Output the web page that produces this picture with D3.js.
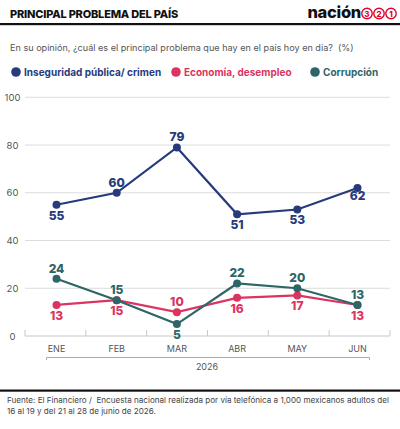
<!DOCTYPE html>
<html>
<head>
<meta charset="utf-8">
<script src="https://cdn.jsdelivr.net/npm/d3@7"></script>
<style>
  body { margin: 0; background: #fff; }
  svg text { font-family: Inter, "Noto Sans", sans-serif; }
</style>
</head>
<body>
<svg id="chart" width="400" height="429"></svg>
<script>
// data
const months = ["ENE", "FEB", "MAR", "ABR", "MAY", "JUN"];
const inseguridad = [55, 60, 79, 51, 53, 62];
const economia = [13, 15, 10, 16, 17, 13];
const corrupcion = [24, 15, 5, 22, 20, 13];
const yTicks = [0, 20, 40, 60, 80, 100];
const seriesNames = ["Inseguridad pública/ crimen", "Economía, desempleo", "Corrupción"];
// where each value label goes: u = above, d = below
const labelPos = [
  ["d", "u", "u", "d", "d", "d"],
  ["d", "d", "u", "d", "d", "d"],
  ["u", "u", "d", "u", "u", "u"]
];

const colors = ["#263a7c", "#dc3461", "#2e6667"];
const series = [inseguridad, economia, corrupcion];

const svg = d3.select("#chart");

// header
svg.append("text").attr("x", 10).attr("y", 18)
  .attr("font-size", 11).attr("font-weight", 800).attr("fill", "#111")
  .attr("letter-spacing", "-0.2")
  .text("PRINCIPAL PROBLEMA DEL PAÍS");
svg.append("rect").attr("x", 0).attr("y", 23).attr("width", 400).attr("height", 2.2).attr("fill", "#111");

// logo
svg.append("text").attr("x", 361).attr("y", 18).attr("text-anchor", "end")
  .attr("font-size", 16.5).attr("font-weight", 800).attr("fill", "#111")
  .attr("letter-spacing", "-0.3")
  .text("nación");
["3", "2", "1"].forEach((n, i) => {
  const cx = 367 + i * 12;
  svg.append("circle").attr("cx", cx).attr("cy", 13.5).attr("r", 5.2)
    .attr("fill", "#fff").attr("stroke", "#e4002b").attr("stroke-width", 1.4);
  svg.append("text").attr("x", cx).attr("y", 16.6).attr("text-anchor", "middle")
    .attr("font-size", 8).attr("font-weight", 800).attr("fill", "#e4002b").text(n);
});

// subtitle
svg.append("text").attr("x", 10).attr("y", 51)
  .attr("font-size", 9.1).attr("fill", "#555")
  .attr("xml:space", "preserve")
  .text("En su opinión, ¿cuál es el principal problema que hay en el país hoy en día?  (%)");

// legend
const legendX = [16, 176, 315];
seriesNames.forEach((name, i) => {
  svg.append("circle").attr("cx", legendX[i]).attr("cy", 72).attr("r", 4.8).attr("fill", colors[i]);
  svg.append("text").attr("x", legendX[i] + 8).attr("y", 75.5)
    .attr("font-size", 10).attr("font-weight", 700).attr("fill", colors[i])
    .text(name);
});

// scales
const xb = d3.scaleBand().domain(months).range([25, 390]);
const x = d3.scalePoint().domain(months).range([56.5, 357.5]);
const y = d3.scaleLinear().domain([0, 100]).range([336, 97.3]);

// grid
svg.append("g").selectAll("line").data(yTicks).enter().append("line")
  .attr("x1", 25).attr("x2", 390)
  .attr("y1", d => y(d)).attr("y2", d => y(d))
  .attr("stroke", d => d === 0 ? "#c8c8c8" : "#dcdcdc").attr("stroke-width", 1);

svg.append("g").selectAll("text").data(yTicks).enter().append("text")
  .attr("x", 12.5).attr("y", d => y(d) + 3.5).attr("text-anchor", "middle")
  .attr("font-size", 9.5).attr("fill", "#555")
  .text(d => d);

// x ticks
const tickX = months.map(m => xb(m)).concat([390]);
svg.append("g").selectAll("line").data(tickX).enter().append("line")
  .attr("x1", d => d).attr("x2", d => d).attr("y1", 330).attr("y2", 336)
  .attr("stroke", "#c8c8c8");

svg.append("g").selectAll("text").data(months).enter().append("text")
  .attr("x", d => x(d)).attr("y", 352).attr("text-anchor", "middle")
  .attr("font-size", 9).attr("fill", "#555")
  .text(d => d);

// year bracket
svg.append("path")
  .attr("d", `M${x("ENE") - 10},360 V357.5 H${x("JUN") + 12} V360`)
  .attr("fill", "none").attr("stroke", "#aaa").attr("stroke-width", 1);
svg.append("text").attr("x", 207).attr("y", 370).attr("text-anchor", "middle")
  .attr("font-size", 9).attr("fill", "#555").text("2026");

// lines, dots, labels
const line = d3.line().x((d, i) => x(months[i])).y(d => y(d));
series.forEach((vals, s) => {
  const g = svg.append("g");
  g.append("path").datum(vals).attr("d", line)
    .attr("fill", "none").attr("stroke", colors[s]).attr("stroke-width", 2.2);
  g.selectAll("circle").data(vals).enter().append("circle")
    .attr("cx", (d, i) => x(months[i])).attr("cy", d => y(d)).attr("r", 4)
    .attr("fill", colors[s]);
  g.selectAll("text").data(vals).enter().append("text")
    .attr("x", (d, i) => x(months[i]))
    .attr("y", (d, i) => {
      if (s === 0 && i === 5) return y(d) + 12;
      return labelPos[s][i] === "u" ? y(d) - 6 : y(d) + 15;
    })
    .attr("text-anchor", "middle")
    .attr("font-size", 12).attr("font-weight", 800).attr("fill", colors[s])
    .text(d => d);
});

// footer
svg.append("rect").attr("x", 0).attr("y", 389.5).attr("width", 400).attr("height", 2.2).attr("fill", "#111");
svg.append("text").attr("x", 7).attr("y", 403)
  .attr("font-size", 8.1).attr("fill", "#444")
  .attr("xml:space", "preserve")
  .text("Fuente: El Financiero /  Encuesta nacional realizada por vía telefónica a 1,000 mexicanos adultos del");
svg.append("text").attr("x", 7).attr("y", 414)
  .attr("font-size", 8.1).attr("fill", "#444")
  .text("16 al 19 y del 21 al 28 de junio de 2026.");
</script>
</body>
</html>
